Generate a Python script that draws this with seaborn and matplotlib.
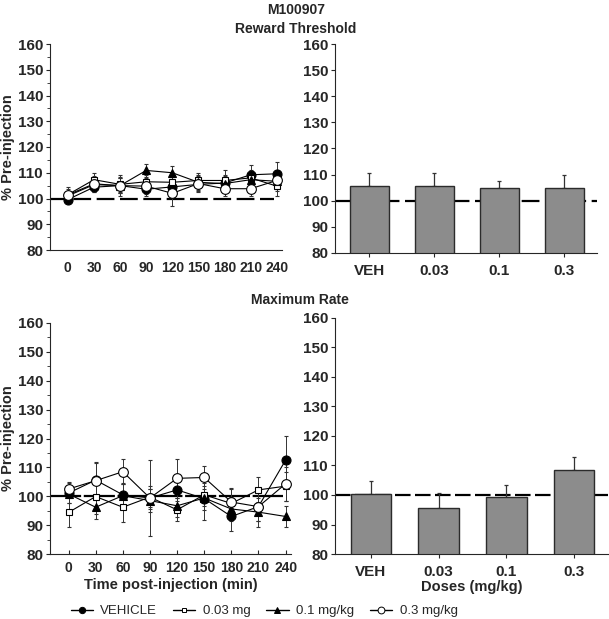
import numpy as np
import pandas as pd
import matplotlib
matplotlib.use('Agg')
import matplotlib.pyplot as plt
import seaborn as sns
from matplotlib.lines import Line2D
from matplotlib.ticker import MultipleLocator

sns.set_style('ticks')
plt.rcParams['font.family'] = ['Liberation Sans', 'DejaVu Sans']

times = [0, 30, 60, 90, 120, 150, 180, 210, 240]
groups = ['VEHICLE', '0.03 mg', '0.1 mg/kg', '0.3 mg/kg']
doses = ['VEH', '0.03', '0.1', '0.3']

# Reward threshold, time course (% pre-injection)
thr_veh = [99.6, 104.4, 105.0, 103.6, 104.5, 105.5, 106.0, 109.2, 109.6]
thr_003 = [101.5, 107.3, 105.5, 106.5, 106.3, 107.0, 107.0, 108.0, 104.8]
thr_01 = [101.0, 105.4, 105.0, 110.9, 110.0, 106.3, 105.8, 107.3, 106.7]
thr_03 = [101.4, 105.7, 105.0, 104.8, 102.0, 105.8, 103.8, 103.8, 107.0]
thr_veh_err = [1.5, 2.0, 3.0, 2.5, 3.0, 3.0, 3.0, 4.0, 4.5]
thr_003_err = [2.0, 2.5, 3.0, 2.5, 2.5, 3.0, 4.0, 3.0, 4.0]
thr_01_err = [2.0, 2.0, 3.0, 2.5, 2.5, 3.0, 3.0, 3.0, 3.0]
thr_03_err = [3.0, 3.0, 4.0, 3.0, 4.8, 3.0, 3.0, 3.0, 4.0]

# Maximum rate, time course
rate_veh = [101.1, 105.6, 100.5, 99.4, 102.2, 99.2, 93.0, 96.4, 112.5]
rate_003 = [94.4, 99.9, 96.2, 99.7, 95.3, 100.5, 97.5, 102.2, 103.5]
rate_01 = [100.8, 96.2, 100.2, 98.5, 96.7, 99.4, 95.6, 94.5, 93.0]
rate_03 = [102.5, 105.4, 108.5, 99.4, 106.2, 106.5, 98.0, 96.4, 104.3]
rate_veh_err = [3.5, 6.0, 4.0, 3.0, 4.0, 7.5, 5.0, 5.0, 8.5]
rate_003_err = [5.0, 6.0, 5.0, 4.0, 4.0, 4.0, 5.0, 4.3, 5.0]
rate_01_err = [3.0, 4.0, 4.0, 4.0, 4.0, 4.0, 4.0, 5.0, 3.5]
rate_03_err = [2.5, 6.5, 4.3, 13.0, 6.7, 4.0, 5.0, 5.0, 6.0]

# dose summaries
thr_bar = [105.5, 105.6, 104.9, 104.7]
thr_bar_err = [5.0, 5.0, 2.5, 5.0]
rate_bar = [100.2, 95.7, 99.4, 108.5]
rate_bar_err = [4.7, 4.9, 4.1, 4.4]

styles = {
    'VEHICLE': dict(marker='o', mfc='black', ms=6.5),
    '0.03 mg': dict(marker='s', mfc='white', ms=5),
    '0.1 mg/kg': dict(marker='^', mfc='black', ms=6),
    '0.3 mg/kg': dict(marker='o', mfc='white', ms=7),
}

W, H = 609, 619
fig = plt.figure(figsize=(W / 100, H / 100), dpi=100)

def px_axes(left, top, right, bottom):
    return fig.add_axes([left / W, 1 - bottom / H, (right - left) / W, (bottom - top) / H])

ax_tl = px_axes(50, 44, 282, 250)
ax_tr = px_axes(335, 44, 597, 253)
ax_bl = px_axes(50, 323, 291, 554)
ax_br = px_axes(335, 318, 608, 554)

tick_font = dict(fontsize=11, fontweight='bold')
time_tick_font = dict(fontsize=10, fontweight='bold')

def time_panel(ax, series, errs, dashes, xticks_visible):
    ax.axhline(100, xmin=0, xmax=0.965, color='black', lw=1.6, dashes=dashes, zorder=1)
    for name, vals, err in zip(groups, series, errs):
        df = pd.DataFrame({'time': times, 'val': vals})
        st = styles[name]
        ax.errorbar(times, vals, yerr=err, fmt='none', ecolor='#333333', elinewidth=0.7,
                    capsize=1.5, capthick=0.8, zorder=2)
        sns.lineplot(data=df, x='time', y='val', ax=ax, color='black', lw=0.8,
                     marker=st['marker'], markersize=st['ms'], markerfacecolor=st['mfc'],
                     markeredgecolor='black', markeredgewidth=0.8, zorder=3)
    ax.set_xlim(-20.5, 246)
    ax.set_ylim(80, 160)
    ax.set_xticks(times)
    ax.set_xticklabels([str(t) for t in times], **time_tick_font)
    ax.set_yticks(range(80, 161, 10))
    ax.set_yticklabels([str(v) for v in range(80, 161, 10)], **tick_font)
    ax.yaxis.set_minor_locator(MultipleLocator(5))
    ax.tick_params(axis='y', which='major', length=3, width=0.8, pad=2)
    ax.tick_params(axis='y', which='minor', length=2, width=0.6)
    if xticks_visible:
        ax.tick_params(axis='x', length=3, width=0.8, direction='in', pad=5)
    else:
        ax.tick_params(axis='x', length=0, pad=8)
    ax.set_ylabel('% Pre-injection', fontsize=10.5, fontweight='bold', labelpad=2)
    ax.set_xlabel('')
    sns.despine(ax=ax)
    for s in ax.spines.values():
        s.set_linewidth(0.8)

def dose_panel(ax, vals, errs, dashes):
    df = pd.DataFrame({'dose': doses, 'val': vals})
    ax.axhline(100, color='black', lw=1.6, dashes=dashes, zorder=0)
    sns.barplot(data=df, x='dose', y='val', ax=ax, color='#8c8c8c', width=0.6,
                edgecolor='#2b2b2b', linewidth=1.0, saturation=1, errorbar=None, zorder=2)
    ax.errorbar(np.arange(len(doses)), vals, yerr=[[0] * len(vals), errs], fmt='none',
                ecolor='#333333', elinewidth=0.9, capsize=1.5, capthick=0.9, zorder=1)
    ax.set_xlim(-0.53, 3.5)
    ax.set_ylim(80, 160)
    ax.set_xticks(range(len(doses)))
    ax.set_xticklabels(doses, **tick_font)
    ax.set_yticks(range(80, 161, 10))
    ax.set_yticklabels([str(v) for v in range(80, 161, 10)], **tick_font)
    ax.tick_params(axis='y', length=3, width=0.8, pad=2)
    ax.tick_params(axis='x', length=3, width=0.8, pad=5)
    ax.set_xlabel('')
    ax.set_ylabel('')
    sns.despine(ax=ax)
    for s in ax.spines.values():
        s.set_linewidth(0.8)

time_panel(ax_tl, [thr_veh, thr_003, thr_01, thr_03],
           [thr_veh_err, thr_003_err, thr_01_err, thr_03_err], (8, 2.5), False)
time_panel(ax_bl, [rate_veh, rate_003, rate_01, rate_03],
           [rate_veh_err, rate_003_err, rate_01_err, rate_03_err], (14, 1.2), True)
dose_panel(ax_tr, thr_bar, thr_bar_err, (8, 2.5))
dose_panel(ax_br, rate_bar, rate_bar_err, (7, 2))

ax_bl.set_xlabel('Time post-injection (min)', fontsize=10.5, fontweight='bold', labelpad=2)
ax_br.set_xlabel('Doses (mg/kg)', fontsize=10.5, fontweight='bold', labelpad=1)

fig.text(296 / W, 1 - 10 / H, 'M100907', ha='center', va='center', fontsize=10, fontweight='bold')
fig.text(296 / W, 1 - 29 / H, 'Reward Threshold', ha='center', va='center', fontsize=10, fontweight='bold')
fig.text(300 / W, 1 - 300 / H, 'Maximum Rate', ha='center', va='center', fontsize=10, fontweight='bold')

handles = [Line2D([], [], color='black', lw=1, marker=styles[g]['marker'],
                  markersize=styles[g]['ms'] * 0.7, markerfacecolor=styles[g]['mfc'],
                  markeredgecolor='black', markeredgewidth=0.7) for g in groups]
fig.legend(handles, groups, loc='center', bbox_to_anchor=(264 / W, 1 - 611 / H), ncol=4,
           frameon=False, prop=dict(family='Liberation Sans', size=9.5), handlelength=1.7,
           handletextpad=0.55, columnspacing=1.2)

fig.savefig('out.png', dpi=100)
